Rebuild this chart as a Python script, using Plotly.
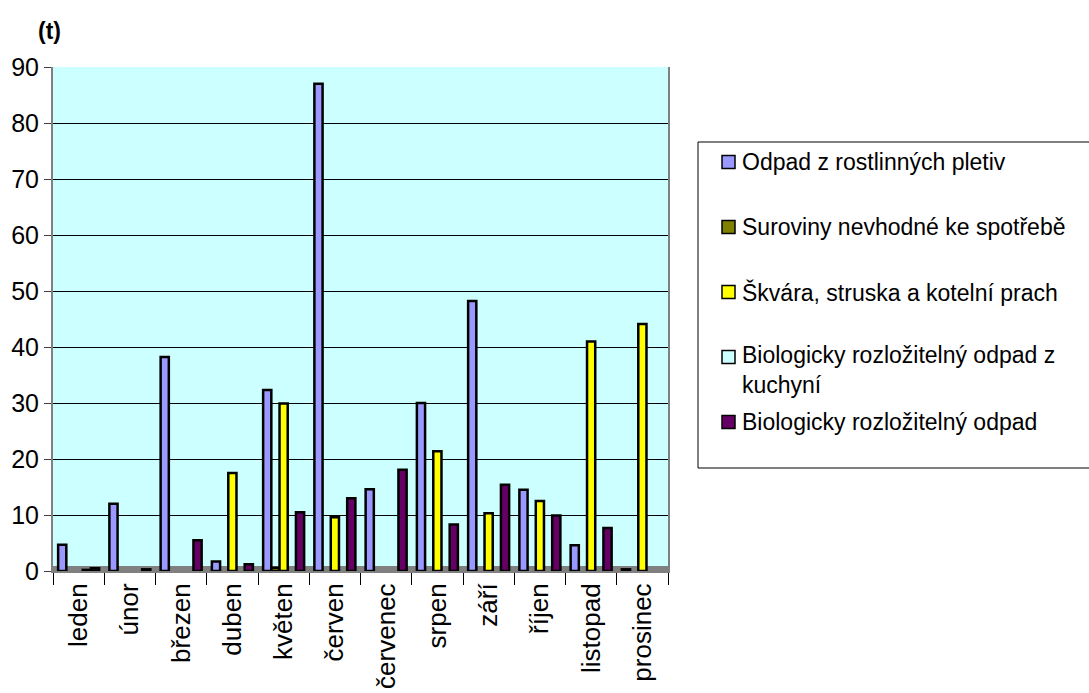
import plotly.graph_objects as go

# Monthly waste quantities (t); None = nothing recorded that month
months = ["leden", "únor", "březen", "duben", "květen", "červen",
          "červenec", "srpen", "září", "říjen", "listopad", "prosinec"]

series_names = [
    "Odpad z rostlinných pletiv",
    "Suroviny nevhodné ke spotřebě",
    "Škvára, struska a kotelní prach",
    "Biologicky rozložitelný odpad z<br>kuchyní",
    "Biologicky rozložitelný odpad",
]

odpad_rostlinny = [4.7, 12.0, 38.2, 1.7, 32.3, 87.0, 14.6, 30.0, 48.2, 14.5, 4.6, 0.3]
suroviny = [None, None, None, None, 0.6, None, None, None, None, None, None, None]
skvara = [None, None, None, 17.5, 29.9, 9.6, None, 21.4, 10.3, 12.5, 41.0, 44.1]
bio_kuchyne = [0.2, None, None, None, None, None, None, None, None, None, None, None]
bio_odpad = [0.5, 0.3, 5.5, 1.2, 10.5, 13.0, 18.1, 8.3, 15.4, 9.9, 7.7, None]

series_values = [odpad_rostlinny, suroviny, skvara, bio_kuchyne, bio_odpad]
colors = ["#9999FF", "#808000", "#FFFF00", "#CCFFFF", "#660066"]

W, H = 1089, 693
L, R, T, B = 53, 668, 67, 571  # plot area in pixels

def px(x):
    return (x - L) / (R - L)

def py(y):
    return (B - y) / (B - T)

FONT = "Liberation Sans, Arial, sans-serif"

fig = go.Figure()
for name, vals, col in zip(series_names, series_values, colors):
    fig.add_trace(go.Bar(
        x=months, y=vals, name=name,
        marker=dict(color=col, line=dict(color="black", width=2.5)),
        showlegend=False,
    ))

shapes = []
# grey floor strip of the chart
shapes.append(dict(type="rect", xref="paper", yref="paper",
                   x0=0, x1=1, y0=0, y1=py(566), fillcolor="#808080",
                   line=dict(width=0), layer="between"))

# legend frame
shapes.append(dict(type="rect", xref="paper", yref="paper",
                   x0=px(698), x1=px(1100), y0=py(468), y1=py(142),
                   line=dict(color="black", width=1), fillcolor="white"))

annotations = []
legend_rows = [162, 227, 292, 370, 422]
for name, col, yc in zip(series_names, colors, legend_rows):
    sq_y = yc if "<br>" not in name else 357
    shapes.append(dict(type="rect", xref="paper", yref="paper",
                       x0=px(722), x1=px(735), y0=py(sq_y + 6.5), y1=py(sq_y - 6.5),
                       fillcolor=col, line=dict(color="black", width=1.5)))
    annotations.append(dict(xref="paper", yref="paper", x=px(740), y=py(yc),
                            text=name, showarrow=False, xanchor="left",
                            yanchor="middle", align="left",
                            font=dict(family=FONT, size=23, color="black")))

annotations.append(dict(xref="paper", yref="paper", x=px(36), y=py(31),
                        text="<b>(t)</b>", showarrow=False, xanchor="left",
                        yanchor="middle",
                        font=dict(family=FONT, size=23, color="black")))

fig.update_layout(
    width=W, height=H,
    margin=dict(l=L, r=W - R, t=T, b=H - B, pad=0),
    paper_bgcolor="white",
    plot_bgcolor="#CCFFFF",
    barmode="group",
    bargap=0.2,
    bargroupgap=0,
    shapes=shapes,
    annotations=annotations,
    font=dict(family=FONT, size=20, color="black"),
    xaxis=dict(
        automargin=False,
        tickangle=-90, tickson="boundaries", ticks="outside", ticklen=12,
        tickcolor="black", showline=True, linecolor="#808080", linewidth=2,
        mirror=False, showgrid=False,
        tickfont=dict(family=FONT, size=26, color="black"),
    ),
    yaxis=dict(
        automargin=False,
        range=[0, 90], dtick=10, ticks="outside", ticklen=7,
        tickcolor="#404040", showline=True, linecolor="#808080", linewidth=2,
        mirror=True, showgrid=True, gridcolor="black", gridwidth=1,
        zeroline=False,
        tickfont=dict(family=FONT, size=25, color="black"),
    ),
)

fig.write_html("out.html")
